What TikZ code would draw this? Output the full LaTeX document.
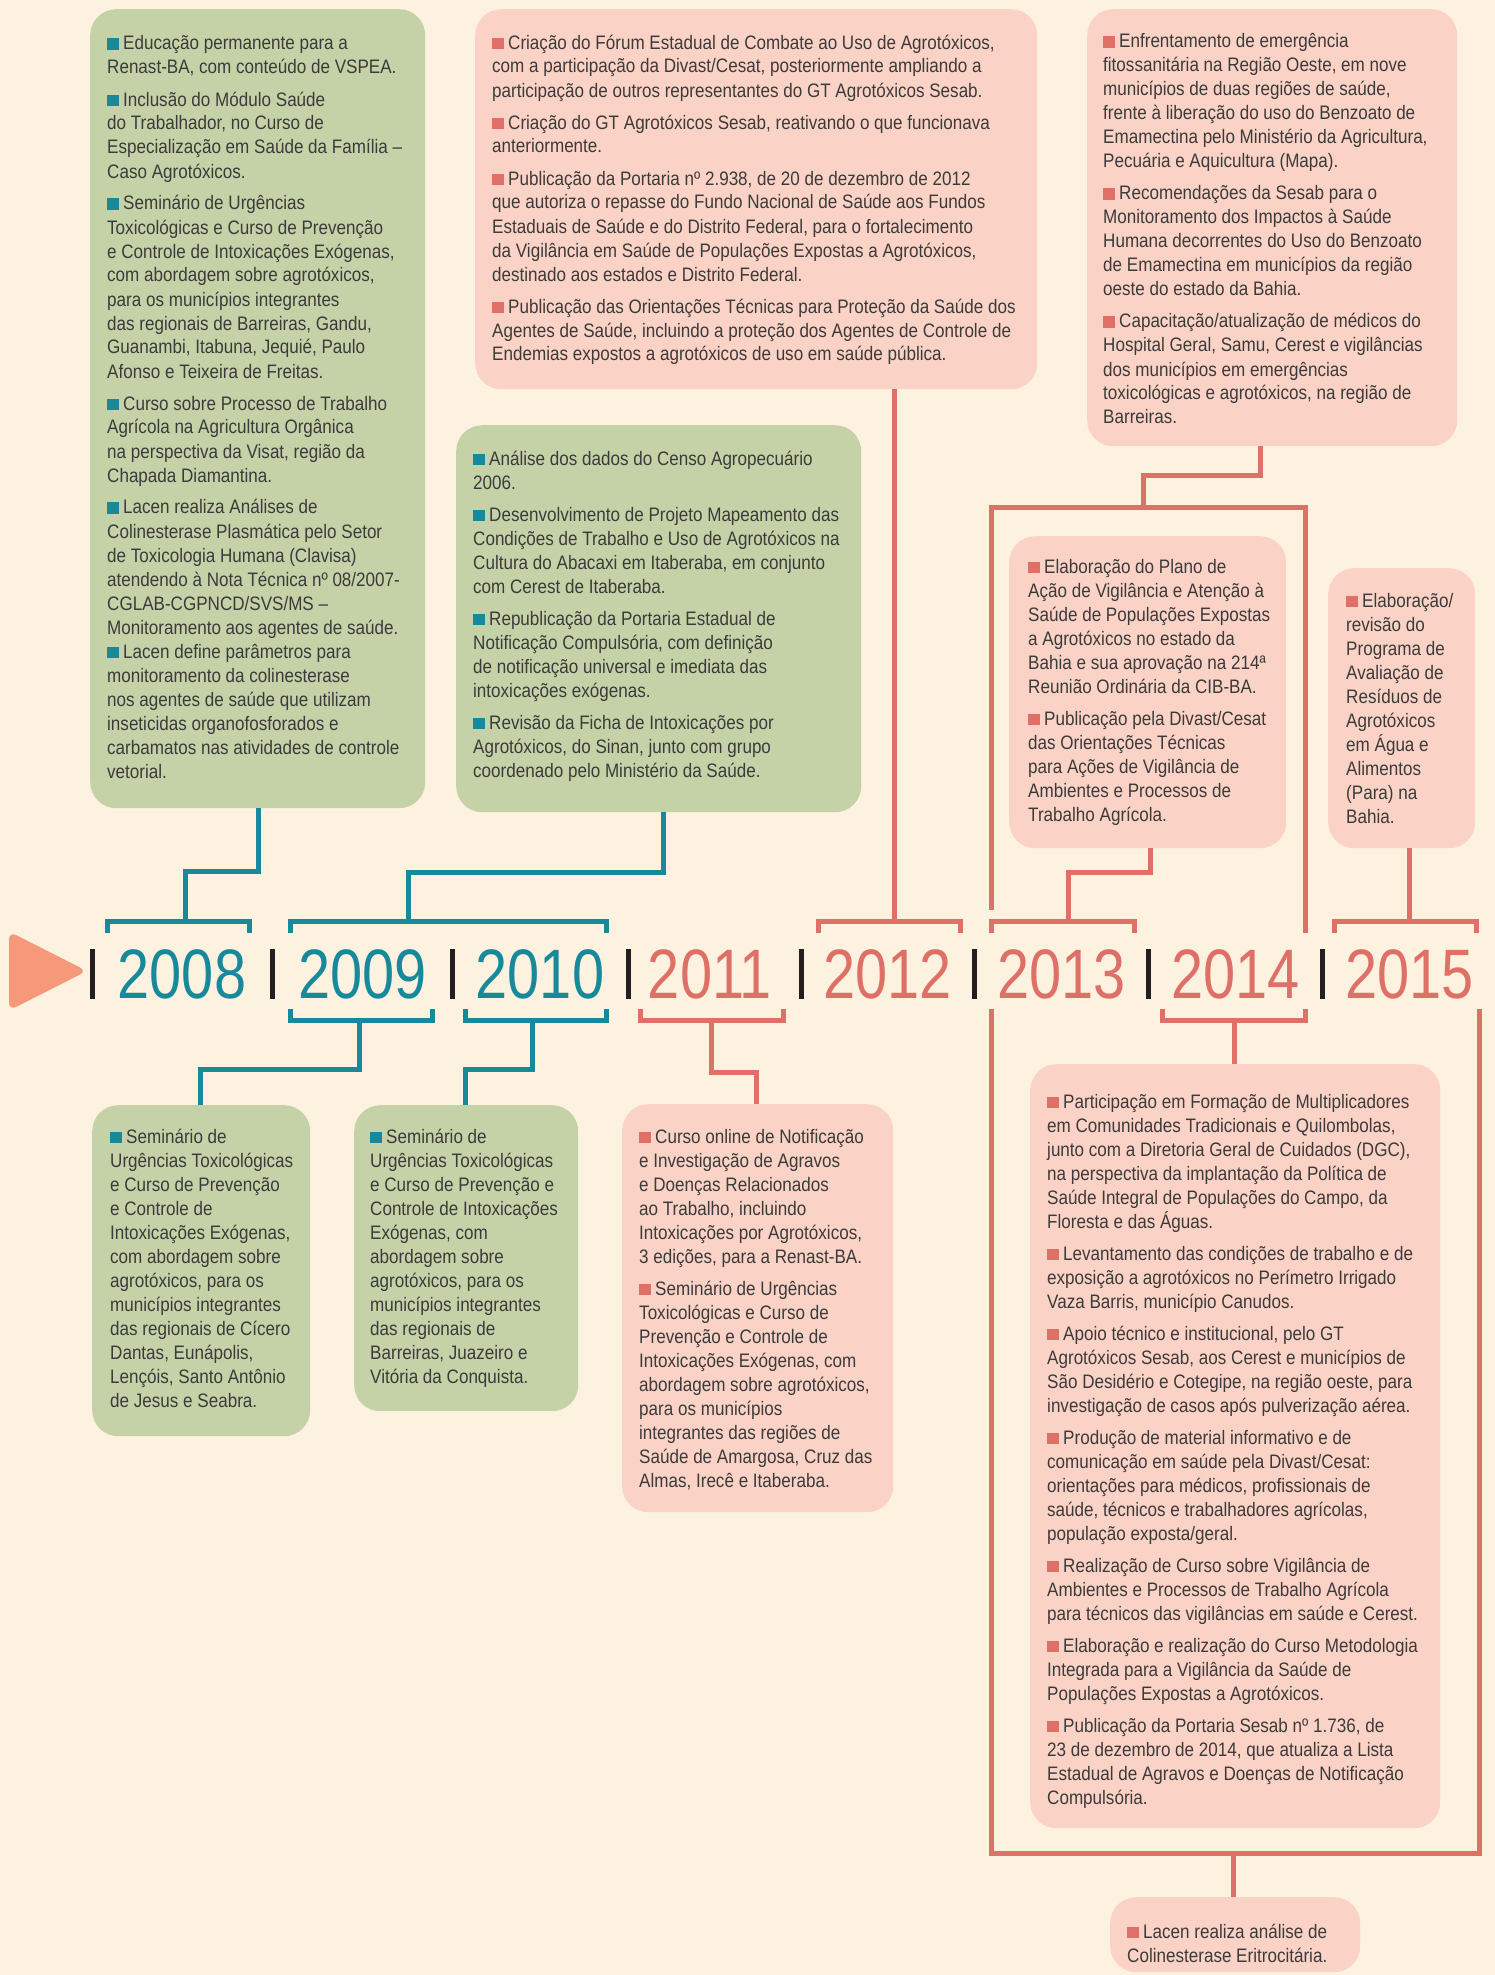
\documentclass[tikz,border=0pt]{standalone}
\usepackage{fontspec}
\setmainfont{Liberation Sans}
\newfontfamily\bodyfont[FakeStretch=0.875]{Liberation Sans}
\newfontfamily\yearfont[FakeStretch=0.825]{Liberation Sans}

\definecolor{bgcream}{HTML}{FDF2E0}
\definecolor{tealc}{HTML}{17899B}
\definecolor{coralc}{HTML}{DF7068}
\definecolor{pinkbox}{HTML}{FAD3C6}
\definecolor{greenbox}{HTML}{C5D2A8}
\definecolor{arrowc}{HTML}{F6987A}
\definecolor{txtgray}{HTML}{3C3A3A}
\definecolor{barc}{HTML}{231F20}

% square bullets
\newcommand\bulT{\textcolor{tealc}{\rule{12pt}{11.5pt}}\hspace{4pt}}
\newcommand\bulC{\textcolor{coralc}{\rule{12pt}{11.5pt}}\hspace{4pt}}
% text block whose baseline is its first line
\newcommand\boxtext[1]{\parbox[t]{600pt}{\bodyfont\fontsize{19.5pt}{24pt}\selectfont\raggedright\setlength{\parskip}{8pt}\leavevmode#1}}
% year brackets above and below the axis
\newcommand\upbracket[3]{\draw[#1] (#2,933) -- (#2,921.5) -- (#3,921.5) -- (#3,933);}
\newcommand\downbracket[3]{\draw[#1] (#2,1008.5) -- (#2,1020.5) -- (#3,1020.5) -- (#3,1008.5);}

\begin{document}
\begin{tikzpicture}[x=1pt,y=-1pt,
  gbox/.style={fill=greenbox, draw=none, rounded corners=26pt, inner sep=0pt, anchor=north west},
  pbox/.style={fill=pinkbox, draw=none, rounded corners=26pt, inner sep=0pt, anchor=north west},
  txt/.style={anchor=base west, inner sep=0pt, text=txtgray},
  yr/.style={anchor=base, inner sep=0pt, font=\yearfont\fontsize{70pt}{70pt}\selectfont},
  tline/.style={draw=tealc, line width=5pt},
  cline/.style={draw=coralc, line width=5pt},
]
\fill[bgcream] (0,0) rectangle (1495,1975);
\useasboundingbox (0,0) rectangle (1495,1975);

% ---------- event boxes ----------
\node[gbox, minimum width=335pt, minimum height=799pt] (boxA) at (90,9) {};
\node[gbox, minimum width=405pt, minimum height=387pt] (boxB) at (456,425) {};
\node[gbox, minimum width=218pt, minimum height=331pt] (boxC) at (92,1105) {};
\node[gbox, minimum width=224pt, minimum height=306pt] (boxD) at (354,1105) {};
\node[pbox, minimum width=271pt, minimum height=408pt] (boxE) at (622,1104) {};
\node[pbox, minimum width=562pt, minimum height=380pt] (boxF) at (475,9) {};
\node[pbox, minimum width=277pt, minimum height=312pt] (boxG) at (1009,536) {};
\node[pbox, minimum width=370pt, minimum height=437pt] (boxH) at (1087,9) {};
\node[pbox, minimum width=410pt, minimum height=764pt] (boxI) at (1030,1064) {};
\node[pbox, minimum width=250pt, minimum height=75pt] (boxJ) at (1110,1897) {};
\node[pbox, minimum width=147pt, minimum height=280pt] (boxK) at (1328,568) {};

% ---------- box texts ----------
\node[txt] (txtA) at (107,50) {\boxtext{%
\bulT Educação permanente para a\\ Renast-BA, com conteúdo de VSPEA.\par
\bulT Inclusão do Módulo Saúde\\ do Trabalhador, no Curso de\\ Especialização em Saúde da Família –\\ Caso Agrotóxicos.\par
\bulT Seminário de Urgências\\ Toxicológicas e Curso de Prevenção\\ e Controle de Intoxicações Exógenas,\\ com abordagem sobre agrotóxicos,\\ para os municípios integrantes\\ das regionais de Barreiras, Gandu,\\ Guanambi, Itabuna, Jequié, Paulo\\ Afonso e Teixeira de Freitas.\par
\bulT Curso sobre Processo de Trabalho\\ Agrícola na Agricultura Orgânica\\ na perspectiva da Visat, região da\\ Chapada Diamantina.\par
\bulT Lacen realiza Análises de\\ Colinesterase Plasmática pelo Setor\\ de Toxicologia Humana (Clavisa)\\ atendendo à Nota Técnica nº 08/2007-\\ CGLAB-CGPNCD/SVS/MS –\\ Monitoramento aos agentes de saúde.\\ \bulT Lacen define parâmetros para\\ monitoramento da colinesterase\\ nos agentes de saúde que utilizam\\ inseticidas organofosforados e\\ carbamatos nas atividades de controle\\ vetorial.}};

\node[txt] (txtB) at (473,465) {\boxtext{%
\bulT Análise dos dados do Censo Agropecuário\\ 2006.\par
\bulT Desenvolvimento de Projeto Mapeamento das\\ Condições de Trabalho e Uso de Agrotóxicos na\\ Cultura do Abacaxi em Itaberaba, em conjunto\\ com Cerest de Itaberaba.\par
\bulT Republicação da Portaria Estadual de\\ Notificação Compulsória, com definição\\ de notificação universal e imediata das\\ intoxicações exógenas.\par
\bulT Revisão da Ficha de Intoxicações por\\ Agrotóxicos, do Sinan, junto com grupo\\ coordenado pelo Ministério da Saúde.}};

\node[txt] (txtC) at (110,1143) {\boxtext{%
\bulT Seminário de\\ Urgências Toxicológicas\\ e Curso de Prevenção\\ e Controle de\\ Intoxicações Exógenas,\\ com abordagem sobre\\ agrotóxicos, para os\\ municípios integrantes\\ das regionais de Cícero\\ Dantas, Eunápolis,\\ Lençóis, Santo Antônio\\ de Jesus e Seabra.}};

\node[txt] (txtD) at (370,1143) {\boxtext{%
\bulT Seminário de\\ Urgências Toxicológicas\\ e Curso de Prevenção e\\ Controle de Intoxicações\\ Exógenas, com\\ abordagem sobre\\ agrotóxicos, para os\\ municípios integrantes\\ das regionais de\\ Barreiras, Juazeiro e\\ Vitória da Conquista.}};

\node[txt] (txtE) at (639,1143) {\boxtext{%
\bulC Curso online de Notificação\\ e Investigação de Agravos\\ e Doenças Relacionados\\ ao Trabalho, incluindo\\ Intoxicações por Agrotóxicos,\\ 3 edições, para a Renast-BA.\par
\bulC Seminário de Urgências\\ Toxicológicas e Curso de\\ Prevenção e Controle de\\ Intoxicações Exógenas, com\\ abordagem sobre agrotóxicos,\\ para os municípios\\ integrantes das regiões de\\ Saúde de Amargosa, Cruz das\\ Almas, Irecê e Itaberaba.}};

\node[txt] (txtF) at (492,49) {\boxtext{%
\bulC Criação do Fórum Estadual de Combate ao Uso de Agrotóxicos,\\ com a participação da Divast/Cesat, posteriormente ampliando a\\ participação de outros representantes do GT Agrotóxicos Sesab.\par
\bulC Criação do GT Agrotóxicos Sesab, reativando o que funcionava\\ anteriormente.\par
\bulC Publicação da Portaria nº 2.938, de 20 de dezembro de 2012\\ que autoriza o repasse do Fundo Nacional de Saúde aos Fundos\\ Estaduais de Saúde e do Distrito Federal, para o fortalecimento\\ da Vigilância em Saúde de Populações Expostas a Agrotóxicos,\\ destinado aos estados e Distrito Federal.\par
\bulC Publicação das Orientações Técnicas para Proteção da Saúde dos\\ Agentes de Saúde, incluindo a proteção dos Agentes de Controle de\\ Endemias expostos a agrotóxicos de uso em saúde pública.}};

\node[txt] (txtG) at (1028,573) {\boxtext{%
\bulC Elaboração do Plano de\\ Ação de Vigilância e Atenção à\\ Saúde de Populações Expostas\\ a Agrotóxicos no estado da\\ Bahia e sua aprovação na 214ª\\ Reunião Ordinária da CIB-BA.\par
\bulC Publicação pela Divast/Cesat\\ das Orientações Técnicas\\ para Ações de Vigilância de\\ Ambientes e Processos de\\ Trabalho Agrícola.}};

\node[txt] (txtH) at (1103,48) {\boxtext{%
\bulC Enfrentamento de emergência\\ fitossanitária na Região Oeste, em nove\\ municípios de duas regiões de saúde,\\ frente à liberação do uso do Benzoato de\\ Emamectina pelo Ministério da Agricultura,\\ Pecuária e Aquicultura (Mapa).\par
\bulC Recomendações da Sesab para o\\ Monitoramento dos Impactos à Saúde\\ Humana decorrentes do Uso do Benzoato\\ de Emamectina em municípios da região\\ oeste do estado da Bahia.\par
\bulC Capacitação/atualização de médicos do\\ Hospital Geral, Samu, Cerest e vigilâncias\\ dos municípios em emergências\\ toxicológicas e agrotóxicos, na região de\\ Barreiras.}};

\node[txt] (txtK) at (1346,607) {\boxtext{%
\bulC Elaboração/\\ revisão do\\ Programa de\\ Avaliação de\\ Resíduos de\\ Agrotóxicos\\ em Água e\\ Alimentos\\ (Para) na\\ Bahia.}};

\node[txt] (txtI) at (1047,1108) {\boxtext{%
\bulC Participação em Formação de Multiplicadores\\ em Comunidades Tradicionais e Quilombolas,\\ junto com a Diretoria Geral de Cuidados (DGC),\\ na perspectiva da implantação da Política de\\ Saúde Integral de Populações do Campo, da\\ Floresta e das Águas.\par
\bulC Levantamento das condições de trabalho e de\\ exposição a agrotóxicos no Perímetro Irrigado\\ Vaza Barris, município Canudos.\par
\bulC Apoio técnico e institucional, pelo GT\\ Agrotóxicos Sesab, aos Cerest e municípios de\\ São Desidério e Cotegipe, na região oeste, para\\ investigação de casos após pulverização aérea.\par
\bulC Produção de material informativo e de\\ comunicação em saúde pela Divast/Cesat:\\ orientações para médicos, profissionais de\\ saúde, técnicos e trabalhadores agrícolas,\\ população exposta/geral.\par
\bulC Realização de Curso sobre Vigilância de\\ Ambientes e Processos de Trabalho Agrícola\\ para técnicos das vigilâncias em saúde e Cerest.\par
\bulC Elaboração e realização do Curso Metodologia\\ Integrada para a Vigilância da Saúde de\\ Populações Expostas a Agrotóxicos.\par
\bulC Publicação da Portaria Sesab nº 1.736, de\\ 23 de dezembro de 2014, que atualiza a Lista\\ Estadual de Agravos e Doenças de Notificação\\ Compulsória.}};

\node[txt] (txtJ) at (1127,1938) {\boxtext{%
\bulC Lacen realiza análise de\\ Colinesterase Eritrocitária.}};

% ---------- brackets on the year axis ----------
\upbracket{tline}{107.5}{249.5}
\upbracket{tline}{290.5}{606.5}
\downbracket{tline}{290.5}{432.5}
\downbracket{tline}{465.5}{606.5}
\downbracket{cline}{640.5}{783.5}
\upbracket{cline}{818.5}{960.5}
\upbracket{cline}{991.5}{1134.5}
\downbracket{cline}{1162.5}{1305.5}
\upbracket{cline}{1334.5}{1476.5}

% ---------- connectors ----------
\coordinate (eA) at (258,871.5);
\coordinate (k08) at (185,921.5);
\draw[tline] (boxA.south -| eA) -- (eA) -| (k08);

\coordinate (eB) at (663.5,872.5);
\coordinate (k0910) at (408.5,921.5);
\draw[tline] (boxB.south -| eB) -- (eB) -| (k0910);

\coordinate (k09) at (359,1020.5);
\coordinate (eC) at (200.5,1069.5);
\draw[tline] (k09) |- (eC) -- (boxC.north -| eC);

\coordinate (k10) at (532,1020.5);
\coordinate (eD) at (465.5,1069.5);
\draw[tline] (k10) |- (eD) -- (boxD.north -| eD);

\coordinate (k11) at (711.5,1020.5);
\coordinate (eE) at (756.5,1072.5);
\draw[cline] (k11) |- (eE) -- (boxE.north -| eE);

\coordinate (k12) at (894.5,921.5);
\draw[cline] (boxF.south -| k12) -- (k12);

% frame joining the 2013-2014 span with the box above
\coordinate (ftl) at (991.5,507.5);
\coordinate (ftr) at (1305.5,507.5);
\coordinate (ftlend) at (991.5,910);
\coordinate (ftrend) at (1305.5,933);
\draw[cline] (ftlend) -- (ftl) -- (ftr) -- (ftrend);
\coordinate (fH) at (1143.5,507.5);
\coordinate (eH) at (1260.5,475);
\draw[cline] (fH) |- (eH) -- (boxH.south -| eH);

\coordinate (eG) at (1150.5,872.5);
\coordinate (k13) at (1068.5,921.5);
\draw[cline] (boxG.south -| eG) -- (eG) -| (k13);

\coordinate (k15) at (1409.5,921.5);
\draw[cline] (boxK.south -| k15) -- (k15);

\coordinate (k14) at (1234.5,1020.5);
\draw[cline] (k14) -- (boxI.north -| k14);

% frame joining the 2013-2015 span with the box below
\coordinate (fbl) at (991.5,1853.5);
\coordinate (fbr) at (1479.5,1853.5);
\coordinate (fblend) at (991.5,1009);
\coordinate (fbrend) at (1479.5,1009);
\draw[cline] (fblend) -- (fbl) -- (fbr) -- (fbrend);
\coordinate (fJ) at (1233.5,1853.5);
\draw[cline] (fJ) -- (boxJ.north -| fJ);

% ---------- year axis ----------
\fill[arrowc, rounded corners=8pt] (9,931.5) -- (87,971) -- (9,1010.5) -- cycle;
\foreach \bx in {92,272,452,628,801,974,1148,1322}
  \fill[barc] (\bx-2.5,949) rectangle (\bx+2.5,999);

\node[yr, text=tealc] (y2008) at (182,998) {2008};
\node[yr, text=tealc] (y2009) at (362.5,998) {2009};
\node[yr, text=tealc] (y2010) at (540,998) {2010};
\node[yr, text=coralc] (y2011) at (710,998) {2011};
\node[yr, text=coralc] (y2012) at (887.5,998) {2012};
\node[yr, text=coralc] (y2013) at (1061.5,998) {2013};
\node[yr, text=coralc] (y2014) at (1235.5,998) {2014};
\node[yr, text=coralc] (y2015) at (1409.5,998) {2015};
\end{tikzpicture}
\end{document}
